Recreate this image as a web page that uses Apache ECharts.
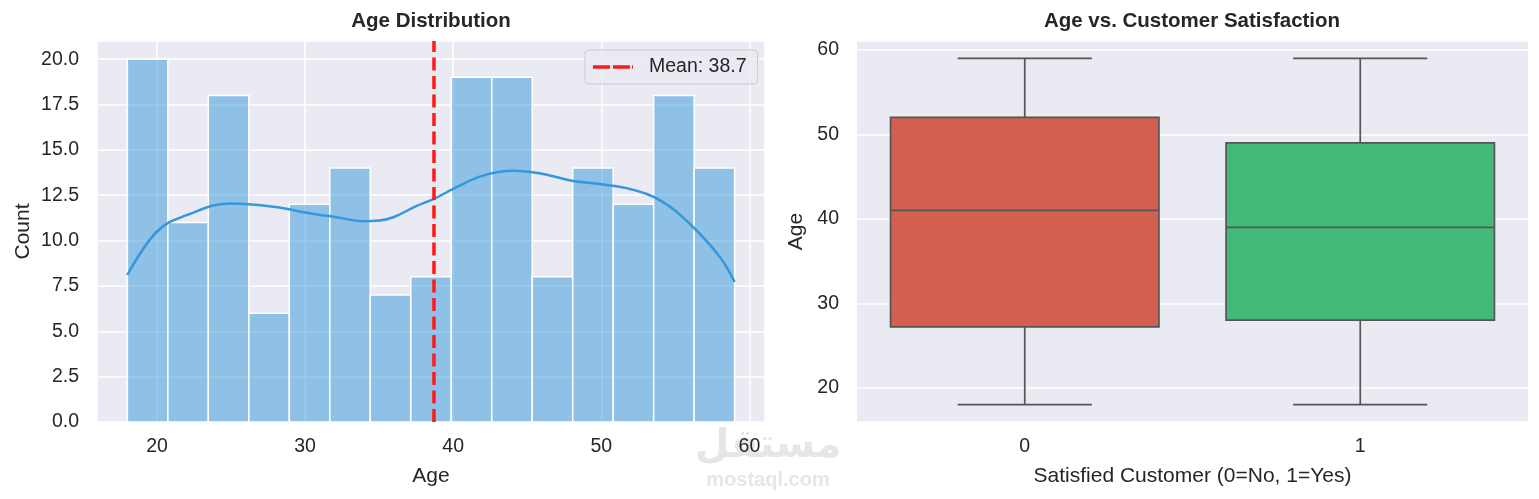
<!DOCTYPE html>
<html>
<head>
<meta charset="utf-8">
<title>Age Distribution</title>
<script src="https://cdn.jsdelivr.net/npm/echarts@6/dist/echarts.min.js"></script>
<style>
html, body { margin: 0; padding: 0; background: #fff; }
#chart { width: 1539px; height: 499px; }
</style>
</head>
<body>
<div id="chart"></div>
<script>
// histogram
var ageMin = 18, ageMax = 59;
var binCounts = [20, 11, 18, 6, 12, 14, 7, 8, 19, 19, 8, 14, 12, 18, 14];
// kde curve (in count units)
var kdeAges   = [18, 20, 22, 25, 28, 30, 32, 34, 35, 36, 37.5, 38.7, 40, 42, 44, 46, 48, 50, 52, 54, 56, 58, 59];
var kdeCounts = [8.1, 10.5, 11.4, 12.05, 11.85, 11.55, 11.3, 11.07, 11.1, 11.3, 11.9, 12.3, 12.85, 13.58, 13.85, 13.68, 13.3, 13.1, 12.83, 12.2, 10.9, 9.1, 7.72];
var meanAge = 38.7;

// boxplot: [min, Q1, median, Q3, max]
var groups = ['0', '1'];
var boxStats = [[18, 27.2, 41, 52, 59], [18, 28, 39, 49, 59]];
var boxColors = ['#d35f50', '#43b977'];

var FONT = "'Liberation Sans', Arial, sans-serif";
var TXT = '#262626';

var binW = (ageMax - ageMin) / binCounts.length;
var binData = binCounts.map(function (c, i) {
    return [ageMin + i * binW, ageMin + (i + 1) * binW, c];
});
var kdeData = kdeAges.map(function (a, i) { return [a, kdeCounts[i]]; });
var boxData = boxStats.map(function (s, i) { return [i].concat(s); });

function renderBin(params, api) {
    var p0 = api.coord([api.value(0), api.value(2)]);
    var p1 = api.coord([api.value(1), 0]);
    return {
        type: 'rect',
        shape: { x: p0[0], y: p0[1], width: p1[0] - p0[0], height: p1[1] - p0[1] },
        style: { fill: 'rgba(52,152,219,0.5)', stroke: '#ffffff', lineWidth: 1.5 }
    };
}

function renderBox(params, api) {
    var idx = api.value(0);
    var lo = api.coord([idx, api.value(1)]);
    var q1 = api.coord([idx, api.value(2)]);
    var med = api.coord([idx, api.value(3)]);
    var q3 = api.coord([idx, api.value(4)]);
    var hi = api.coord([idx, api.value(5)]);
    var band = api.size([1, 0])[0];
    var half = band * 0.4, cap = band * 0.2;
    var x = lo[0];
    var ln = { stroke: '#555555', lineWidth: 1.7 };
    return {
        type: 'group',
        children: [
            { type: 'line', shape: { x1: x, y1: lo[1], x2: x, y2: q1[1] }, style: ln },
            { type: 'line', shape: { x1: x, y1: q3[1], x2: x, y2: hi[1] }, style: ln },
            { type: 'line', shape: { x1: x - cap, y1: lo[1], x2: x + cap, y2: lo[1] }, style: ln },
            { type: 'line', shape: { x1: x - cap, y1: hi[1], x2: x + cap, y2: hi[1] }, style: ln },
            { type: 'rect', shape: { x: x - half, y: q3[1], width: half * 2, height: q1[1] - q3[1] },
              style: { fill: boxColors[idx], stroke: '#555555', lineWidth: 1.7 } },
            { type: 'line', shape: { x1: x - half, y1: med[1], x2: x + half, y2: med[1] }, style: ln }
        ]
    };
}

var tickLabel = { color: TXT, fontSize: 19.5, fontFamily: FONT };
var axisName = { color: TXT, fontSize: 21, fontFamily: FONT };
var gridLine = { show: true, lineStyle: { color: '#ffffff', width: 1.5 } };

var chart = echarts.init(document.getElementById('chart'));
chart.setOption({
    animation: false,
    textStyle: { fontFamily: FONT },
    graphic: [
        { type: 'text', x: 768, y: 447, z: -10, style: { text: 'مستقل', fill: '#e6e6e6',
          font: "bold 40px 'DejaVu Sans'", align: 'center', verticalAlign: 'middle' } },
        { type: 'text', x: 768, y: 480, z: -10, style: { text: 'mostaql.com', fill: '#e6e6e6',
          font: "bold 20px 'Liberation Sans'", align: 'center', verticalAlign: 'middle' } },
        { type: 'text', x: 431, y: 21, style: { text: 'Age Distribution', fill: TXT,
          font: "bold 20.5px 'Liberation Sans'", align: 'center', verticalAlign: 'middle' } },
        { type: 'text', x: 1192, y: 21, style: { text: 'Age vs. Customer Satisfaction', fill: TXT,
          font: "bold 20.5px 'Liberation Sans'", align: 'center', verticalAlign: 'middle' } }
    ],
    legend: {
        data: [{ name: 'Mean: ' + meanAge,
                 icon: 'path://M0 0H17V3.5H0Z M20 0H37V3.5H20Z M39 0H40V3.5H39Z' }],
        left: 585, top: 50,
        itemWidth: 40, itemHeight: 3.5,
        padding: [7, 11, 7, 8],
        backgroundColor: 'rgba(234,234,242,0.8)',
        borderColor: '#cccccc', borderWidth: 1, borderRadius: 4,
        textStyle: { color: TXT, fontSize: 19.5, fontFamily: FONT, padding: [0, 0, 0, 11] }
    },
    grid: [
        { left: 97, right: 774, top: 41, bottom: 77, show: true, backgroundColor: '#eaeaf2', borderWidth: 0 },
        { left: 857, right: 11, top: 41, bottom: 77, show: true, backgroundColor: '#eaeaf2', borderWidth: 0 }
    ],
    xAxis: [
        {
            type: 'value', gridIndex: 0, min: 15.95, max: 61.05, splitNumber: 5,
            name: 'Age', nameLocation: 'middle', nameGap: 44, nameTextStyle: axisName,
            axisLine: { show: false }, axisTick: { show: false },
            axisLabel: Object.assign({ margin: 15, showMinLabel: false, showMaxLabel: false }, tickLabel),
            splitLine: gridLine
        },
        {
            type: 'category', gridIndex: 1, data: groups,
            name: 'Satisfied Customer (0=No, 1=Yes)', nameLocation: 'middle', nameGap: 44, nameTextStyle: axisName,
            axisLine: { show: false }, axisTick: { show: false },
            axisLabel: Object.assign({ margin: 15 }, tickLabel),
            splitLine: { show: false }
        }
    ],
    yAxis: [
        {
            type: 'value', gridIndex: 0, min: 0, max: 21, interval: 2.5,
            name: 'Count', nameLocation: 'middle', nameGap: 63, nameTextStyle: axisName,
            axisLine: { show: false }, axisTick: { show: false },
            axisLabel: Object.assign({ margin: 18, showMaxLabel: false,
                formatter: function (v) { return v.toFixed(1); } }, tickLabel),
            splitLine: gridLine
        },
        {
            type: 'value', gridIndex: 1, min: 15.95, max: 61.05, splitNumber: 5,
            name: 'Age', nameLocation: 'middle', nameGap: 50, nameTextStyle: axisName,
            axisLine: { show: false }, axisTick: { show: false },
            axisLabel: Object.assign({ margin: 18, showMinLabel: false, showMaxLabel: false }, tickLabel),
            splitLine: gridLine
        }
    ],
    series: [
        {
            type: 'custom', name: 'Count', xAxisIndex: 0, yAxisIndex: 0,
            renderItem: renderBin, data: binData, encode: { x: [0, 1], y: 2 }, z: 2
        },
        {
            type: 'line', name: 'KDE', xAxisIndex: 0, yAxisIndex: 0,
            data: kdeData, smooth: 0.4, showSymbol: false, symbol: 'none',
            lineStyle: { color: '#3498db', width: 2.5 }, z: 3
        },
        {
            type: 'line', name: 'Mean: ' + meanAge, xAxisIndex: 0, yAxisIndex: 0,
            data: [[meanAge, 0], [meanAge, 21]], symbol: 'none',
            itemStyle: { color: '#ff1a1a' },
            lineStyle: { color: '#ff1a1a', width: 3.5, type: [13, 5.5] }, z: 4
        },
        {
            type: 'custom', name: 'Age', xAxisIndex: 1, yAxisIndex: 1,
            renderItem: renderBox, data: boxData, encode: { x: 0, y: [1, 2, 3, 4, 5] }
        }
    ]
});
</script>
</body>
</html>
